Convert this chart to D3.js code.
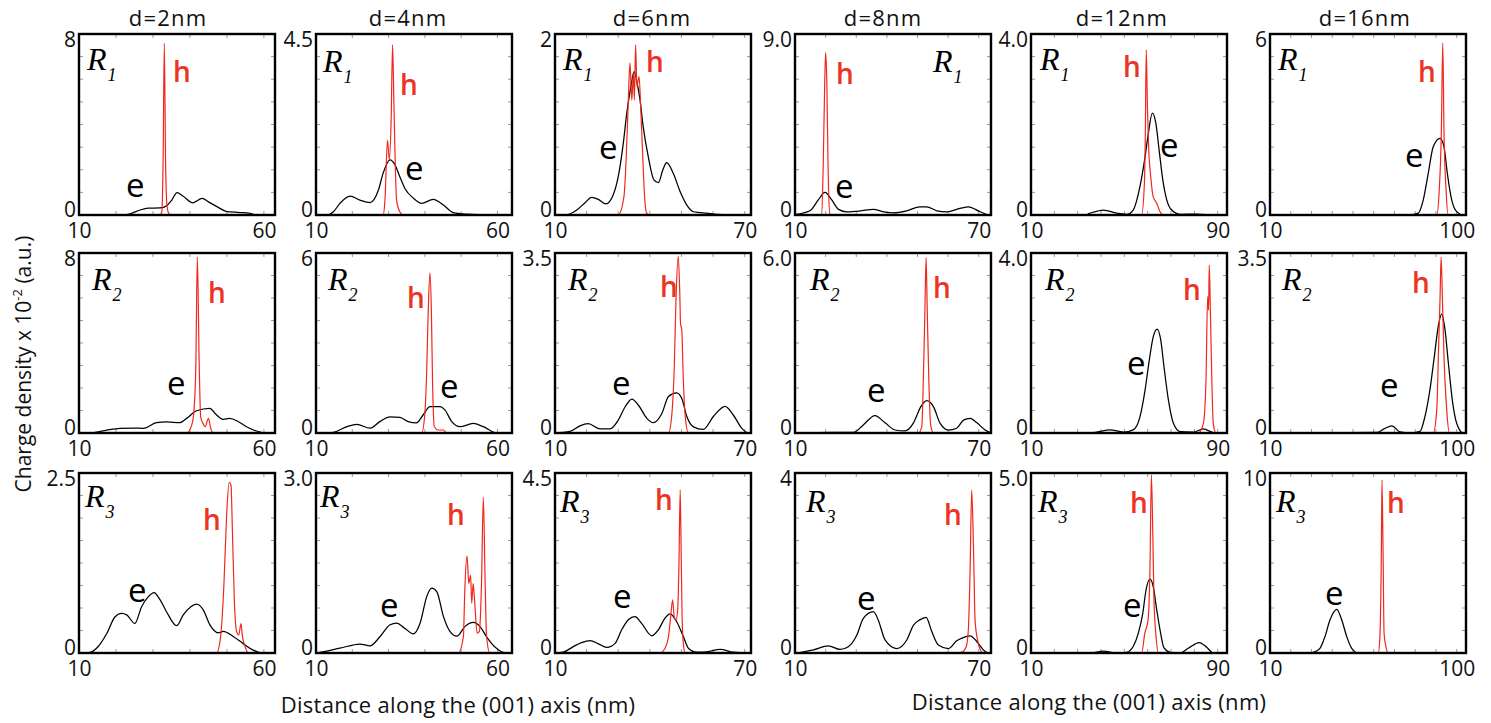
<!DOCTYPE html>
<html><head><meta charset="utf-8">
<script src="https://cdn.jsdelivr.net/npm/d3@7"></script>
<style>
body{margin:0;background:#fff}
svg{display:block}
</style>
</head><body>
<svg id="chart" width="1491" height="723"></svg>
<script>
// ---------- categories / tick labels ----------
const columns = ["d=2nm","d=4nm","d=6nm","d=8nm","d=12nm","d=16nm"];
const rowNames = ["1","2","3"];
const xDomains = [[10,63],[10,64],[10,72],[10,74],[10,94],[10,104.5]];
const xTickLabels = [[10,60],[10,60],[10,70],[10,70],[10,90],[10,100]];
const yMax = [[8,4.5,2,9,4,6],[8,6,3.5,6,4,3.5],[2.5,3,4.5,4,5,10]];
const yTickLabels = [["8","4.5","2","9.0","4.0","6"],["8","6","3.5","6.0","4.0","3.5"],["2.5","3.0","4.5","4","5.0","10"]];

// ---------- series: [distance nm, charge density] ----------
// Row R1
const e_d2_R1 = [[10,0],[22.4,0],[23.8,0.05],[26.5,0.22],[28.7,0.30],[31.9,0.31],[33.8,0.42],[35.1,0.66],[36.5,0.99],[38.1,0.84],[40.8,0.54],[43.3,0.74],[45.1,0.57],[47.3,0.37],[50.0,0.15],[53.5,0.11],[56.2,0.07],[57.9,0],[63,0]];
const h_d2_R1 = [[10,0],[31.9,0],[32.4,0.15],[32.75,2.5],[33.07,7.59],[33.4,2.5],[33.75,0.5],[34.2,0.1],[34.9,0],[63,0]];
const e_d4_R1 = [[10,0],[12.9,0],[14.8,0.08],[16.6,0.29],[19.4,0.47],[22.1,0.37],[24.9,0.31],[27.2,0.62],[28.5,1.04],[30.4,1.37],[31.8,1.24],[33.1,0.95],[34.5,0.66],[36.8,0.42],[39.1,0.29],[42.3,0.39],[45.1,0.25],[47.8,0.06],[51.5,0.02],[57.9,0],[64,0]];
const h_d4_R1 = [[10,0],[28.5,0],[29.0,0.37],[29.7,1.86],[30.2,1.37],[30.7,2.36],[31.1,4.23],[31.5,2.61],[32.2,0.37],[33.1,0.08],[34.0,0],[64,0]];
const e_d6_R1 = [[10,0],[13.2,0],[16.9,0.055],[19.5,0.136],[21.6,0.196],[23.7,0.173],[26.1,0.122],[28.4,0.221],[30.0,0.423],[31.6,0.792],[32.7,1.124],[34.0,1.418],[35.0,1.584],[36.0,1.455],[36.9,1.271],[37.9,0.976],[39.5,0.644],[41.3,0.387],[42.7,0.357],[44.1,0.497],[45.3,0.578],[47.4,0.461],[49.6,0.257],[51.7,0.11],[53.8,0.036],[58.0,0.02],[66.3,0],[72,0]];
const h_d6_R1 = [[10,0],[30.0,0],[31.8,0.2],[32.5,0.61],[33.2,1.27],[33.7,1.68],[34.3,1.27],[34.8,1.57],[35.1,1.27],[35.5,1.88],[35.9,1.42],[36.6,1.53],[37.1,1.2],[37.8,0.61],[38.4,0.17],[39.0,0.02],[40.1,0],[72,0]];
const e_d8_R1 = [[10,0.03],[14.9,0.21],[17.6,0.75],[19.8,1.13],[22.0,0.75],[24.2,0.28],[26.9,0.16],[31.2,0.2],[35.6,0.28],[38.9,0.16],[42.1,0.11],[46.5,0.21],[50.8,0.41],[53.0,0.41],[56.3,0.21],[59.6,0.16],[63.9,0.33],[66.6,0.41],[70.5,0.16],[73.5,0],[74,0]];
const h_d8_R1 = [[10,0],[17.5,0],[18.7,0.03],[19.2,2.4],[19.7,6.55],[20.0,8.07],[20.4,6.55],[20.8,2.4],[21.4,0.05],[22.4,0],[74,0]];
const e_d12_R1 = [[10,0],[33.1,0],[35.3,0.04],[41.0,0.11],[46.7,0.04],[51.0,0.015],[53.8,0.11],[56.7,0.63],[58.9,1.29],[60.3,1.81],[62.0,2.25],[63.5,2.03],[64.9,1.44],[66.5,0.77],[68.2,0.33],[70.3,0.11],[73.9,0.015],[81.0,0.02],[88.9,0],[94,0]];
const h_d12_R1 = [[10,0],[57.4,0],[58.6,0.7],[59.0,1.8],[59.4,3.65],[59.9,2.39],[60.4,1.51],[61.3,0.85],[62.4,0.4],[63.9,0.26],[65.3,0.07],[66.7,0],[94,0]];
const e_d16_R1 = [[10,0],[77.5,0],[81.5,0.06],[83.9,0.5],[86.3,1.38],[88.7,2.26],[92.0,2.54],[93.9,2.26],[95.5,1.38],[97.6,0.5],[100.0,0.11],[103.2,0],[104.5,0]];
const h_d16_R1 = [[10,0],[90.4,0],[91.6,0.83],[92.6,2.71],[93.3,5.71],[93.9,2.71],[94.9,0.83],[95.8,0],[104.5,0]];
// Row R2
const e_d2_R2 = [[10,0],[13.9,0.02],[17.5,0.13],[21.1,0.21],[24.7,0.22],[27.4,0.21],[31.0,0.46],[33.7,0.49],[37.3,0.46],[39.1,0.65],[41.8,0.99],[45.4,1.1],[46.8,0.87],[49.0,0.61],[50.8,0.65],[53.1,0.5],[55.3,0.28],[58.0,0.09],[60.8,0],[63,0]];
const h_d2_R2 = [[10,0],[39.1,0],[40.5,0.36],[41.1,1.02],[41.6,3.09],[42.0,7.83],[42.5,3.09],[42.9,0.72],[43.5,0.43],[44.1,0.28],[45.0,0.65],[45.6,0.21],[46.3,0],[63,0]];
const e_d4_R2 = [[10,0],[12.8,0],[14.8,0.02],[18.5,0.21],[21.2,0.29],[24.9,0.16],[27.6,0.38],[30.4,0.54],[33.1,0.52],[35.4,0.38],[37.7,0.34],[39.5,0.6],[41.4,0.88],[44.2,0.88],[45.5,0.77],[47.4,0.38],[49.7,0.21],[53.3,0.32],[56.1,0.21],[59.8,0],[64,0]];
const h_d4_R2 = [[10,0],[39.1,0],[40.0,0.66],[40.5,2.1],[40.9,3.99],[41.4,5.34],[41.8,3.99],[42.1,1.77],[42.6,0.21],[43.7,0.1],[45.1,0.1],[46.0,0],[64,0]];
const e_d6_R2 = [[10,0],[14.7,0.03],[17.9,0.14],[20.5,0.18],[24.2,0.08],[27.4,0.08],[30.0,0.25],[32.2,0.51],[34.3,0.66],[36.4,0.54],[39.0,0.29],[41.1,0.2],[43.8,0.38],[45.9,0.71],[48.5,0.78],[50.1,0.67],[51.7,0.32],[53.8,0.12],[56.9,0.07],[60.1,0.32],[63.8,0.52],[66.4,0.35],[69.1,0.09],[71.2,0],[72,0]];
const h_d6_R2 = [[10,0],[45.9,0],[46.9,0.32],[47.7,1.22],[48.3,2.65],[49.0,3.44],[49.5,2.65],[49.7,2.13],[50.1,2.0],[50.6,1.03],[51.2,0.32],[52.2,0],[72,0]];
const e_d8_R2 = [[10,0],[22.5,0.02],[29.1,0.02],[32.3,0.27],[36.1,0.58],[39.4,0.34],[42.7,0.1],[45.9,0.07],[48.7,0.34],[51.1,0.88],[53.0,1.08],[55.2,0.88],[57.4,0.32],[60.1,0.1],[62.8,0.16],[65.0,0.43],[67.2,0.49],[69.4,0.34],[72.1,0.1],[74,0]];
const h_d8_R2 = [[10,0],[50.3,0],[51.4,0.21],[51.9,1.77],[52.4,3.99],[52.8,5.85],[53.2,3.99],[53.7,1.77],[54.3,0.27],[55.2,0],[74,0]];
const e_d12_R2 = [[10,0],[35.3,0],[38.2,0.02],[43.9,0.07],[49.6,0.02],[53.8,0.07],[56.7,0.36],[58.9,0.96],[60.7,1.62],[62.4,2.14],[64.1,2.31],[65.6,2.07],[67.0,1.47],[68.9,0.73],[71.0,0.22],[73.9,0.03],[79.6,0.02],[83.9,0.09],[87.5,0.02],[89.6,0],[94,0]];
const h_d12_R2 = [[10,0],[81.7,0],[83.9,0.22],[85.0,1.18],[85.7,3.03],[86.1,2.73],[86.4,3.73],[86.9,2.66],[87.5,1.18],[88.1,0.22],[89.3,0],[94,0]];
const e_d16_R2 = [[10,0],[61.4,0.01],[65.4,0.09],[68.7,0.14],[72.7,0.02],[77.5,0],[82.3,0.03],[84.7,0.32],[87.1,0.84],[89.2,1.48],[91.1,2.07],[92.8,2.31],[94.4,2.0],[96.0,1.36],[98.1,0.58],[100.0,0.19],[103.2,0],[104.5,0]];
const h_d16_R2 = [[10,0],[88.7,0],[90.4,0.45],[91.3,1.68],[92.0,2.65],[92.5,3.42],[93.1,2.65],[93.9,1.48],[95.2,0.45],[96.5,0],[104.5,0]];
// Row R3
const e_d2_R3 = [[10,0],[13.0,0.01],[15.2,0.09],[17.5,0.27],[19.7,0.5],[21.5,0.55],[22.9,0.53],[25.1,0.41],[26.9,0.64],[28.7,0.78],[30.3,0.84],[31.9,0.74],[33.7,0.57],[36.4,0.38],[38.2,0.53],[41.8,0.68],[43.6,0.6],[45.4,0.39],[47.7,0.28],[49.0,0.3],[51.7,0.23],[54.4,0.13],[57.1,0.04],[59.8,0],[63,0]];
const h_d2_R3 = [[10,0],[47.2,0],[48.3,0.23],[49.2,0.97],[49.9,1.89],[50.6,2.37],[51.1,2.33],[51.5,1.66],[52.0,0.74],[52.6,0.3],[53.2,0.25],[53.8,0.41],[54.2,0.23],[54.9,0.09],[55.8,0],[63,0]];
const e_d4_R3 = [[10,0],[11.1,0.01],[16.6,0.08],[22.1,0.15],[24.9,0.12],[27.6,0.27],[30.4,0.47],[32.2,0.5],[34.5,0.41],[36.8,0.32],[38.7,0.5],[40.5,0.94],[41.9,1.08],[43.3,1.02],[45.1,0.61],[46.9,0.36],[48.8,0.28],[51.0,0.44],[53.3,0.51],[55.2,0.44],[57.0,0.27],[59.3,0.1],[62.5,0],[64,0]];
const h_d4_R3 = [[10,0],[49.2,0],[50.6,0.27],[51.0,1.05],[51.6,1.62],[52.1,1.16],[52.6,1.3],[52.9,0.83],[53.3,1.16],[53.8,0.77],[54.4,0.33],[55.0,0.36],[55.6,1.16],[56.1,2.6],[56.6,1.16],[57.0,0.27],[57.9,0],[64,0]];
const e_d6_R3 = [[10,0],[12.6,0.02],[15.8,0.16],[18.4,0.26],[21.1,0.31],[23.7,0.23],[26.4,0.14],[29.0,0.24],[31.1,0.58],[33.2,0.83],[35.3,0.91],[37.4,0.74],[40.6,0.43],[42.7,0.58],[44.8,0.87],[46.4,0.98],[48.5,0.78],[50.6,0.41],[52.2,0.12],[54.8,0.02],[58.0,0.03],[62.2,0.09],[66.4,0.02],[70.7,0],[72,0]];
const h_d6_R3 = [[10,0],[43.2,0],[44.8,0.12],[45.9,0.41],[46.6,0.91],[47.2,1.33],[47.7,0.91],[48.3,0.83],[48.8,1.08],[49.2,2.16],[49.6,4.08],[49.9,2.58],[50.2,0.91],[50.6,0.24],[51.2,0],[72,0]];
const e_d8_R3 = [[10,0],[11.6,0.01],[16.0,0.07],[20.9,0.16],[24.7,0.08],[27.4,0.14],[30.2,0.4],[32.3,0.77],[35.6,0.92],[37.2,0.73],[39.4,0.29],[43.2,0.1],[46.5,0.29],[48.7,0.62],[50.6,0.73],[52.8,0.79],[54.7,0.47],[56.8,0.18],[60.1,0.1],[62.8,0.27],[64.5,0.33],[67.2,0.38],[69.4,0.25],[71.5,0.07],[73.2,0],[74,0]];
const h_d8_R3 = [[10,0],[62.3,0],[64.5,0.02],[65.9,0.14],[66.6,0.51],[67.2,1.92],[67.7,3.62],[68.3,2.29],[68.8,0.73],[69.6,0.29],[70.5,0.07],[71.5,0],[74,0]];
const e_d12_R3 = [[10,0],[35.3,0],[41.0,0.05],[46.7,0],[51.0,0.02],[53.8,0.18],[56.0,0.55],[57.9,1.1],[59.3,1.75],[61.0,2.05],[62.4,1.84],[63.9,1.19],[65.3,0.64],[67.0,0.14],[69.6,0.02],[73.9,0],[77.4,0.13],[82.1,0.29],[85.3,0.16],[88.1,0],[94,0]];
const h_d12_R3 = [[10,0],[57.4,0],[58.9,0.59],[59.6,0.73],[60.3,1.01],[61.0,2.4],[61.6,4.95],[62.2,3.33],[62.7,1.47],[63.6,0.45],[64.6,0],[94,0]];
const e_d16_R3 = [[10,0],[29.3,0],[30.9,0.03],[34.1,0.26],[36.5,0.91],[38.9,1.83],[42.2,2.43],[44.6,1.83],[47.0,0.91],[49.4,0.26],[52.6,0],[104.5,0]];
const h_d16_R3 = [[10,0],[62.2,0],[63.0,0.91],[63.7,5.73],[64.0,9.62],[64.5,5.73],[65.0,1.1],[65.9,0.35],[67.0,0],[104.5,0]];

const eSeries = [
  [e_d2_R1,e_d4_R1,e_d6_R1,e_d8_R1,e_d12_R1,e_d16_R1],
  [e_d2_R2,e_d4_R2,e_d6_R2,e_d8_R2,e_d12_R2,e_d16_R2],
  [e_d2_R3,e_d4_R3,e_d6_R3,e_d8_R3,e_d12_R3,e_d16_R3]];
const hSeries = [
  [h_d2_R1,h_d4_R1,h_d6_R1,h_d8_R1,h_d12_R1,h_d16_R1],
  [h_d2_R2,h_d4_R2,h_d6_R2,h_d8_R2,h_d12_R2,h_d16_R2],
  [h_d2_R3,h_d4_R3,h_d6_R3,h_d8_R3,h_d12_R3,h_d16_R3]];

// ---------- layout (pixels) ----------
const colLeft = [79, 316, 555, 795, 1031, 1270];
const colWidth = 196;
const rowTop = [34, 253, 473];
const rowHeight = [181, 180, 180];
const titleDx = [89, 92, 97, 88, 91, 95];
const rPos = [[[8,36],[7,38],[8,36],[138,38],[9,36],[8,36]],
              [[13,37],[12,37],[13,37],[15,37],[14,37],[12,37]],
              [[6,34],[4,34],[5,39],[11,39],[7,39],[6,39]]];
const hPos = [[[94,48],[84,61],[91,38],[41,50],[92,43],[148,48]],
              [[129,50],[91,55],[105,44],[138,45],[152,47],[142,40]],
              [[124,57],[131,52],[100,37],[149,52],[99,40],[117,40]]];
const ePos = [[[47,163],[89,146],[44,125],[40,164],[129,123],[135,133]],
              [[88,142],[124,145],[57,142],[72,149],[96,122],[110,144]],
              [[49,129],[64,144],[58,135],[62,137],[92,144],[55,132]]];

const FONT = "'Open Sans', 'Noto Sans', sans-serif";
const SERIF = "'Liberation Serif', 'DejaVu Serif', serif";
const RED_LINE = "#f0281c";
const RED_TEXT = "#ec3424";

const svg = d3.select("#chart");
svg.append("rect").attr("width",1491).attr("height",723).attr("fill","#fff");

rowNames.forEach((rn, r) => {
  columns.forEach((cn, c) => {
    const left = colLeft[c], top = rowTop[r], w = colWidth, h = rowHeight[r];
    const x = d3.scaleLinear().domain(xDomains[c]).range([left, left + w]);
    const y = d3.scaleLinear().domain([0, yMax[r][c]]).range([top + h, top]);
    const g = svg.append("g");
    const clipId = `clip-${r}-${c}`;
    g.append("clipPath").attr("id", clipId).append("rect")
      .attr("x", left).attr("y", top).attr("width", w).attr("height", h);

    // minor inward ticks on all sides
    const xt = d3.range(xDomains[c][0] + 10, xDomains[c][1], 10);
    const yt = d3.range(1, 8).map(k => yMax[r][c] * k / 8);
    const tk = g.append("g").attr("stroke", "#9a9a9a").attr("stroke-width", 1);
    xt.forEach(v => {
      tk.append("line").attr("x1", x(v)).attr("x2", x(v)).attr("y1", top + h).attr("y2", top + h - 4);
      tk.append("line").attr("x1", x(v)).attr("x2", x(v)).attr("y1", top).attr("y2", top + 4);
    });
    yt.forEach(v => {
      tk.append("line").attr("x1", left).attr("x2", left + 4).attr("y1", y(v)).attr("y2", y(v));
      tk.append("line").attr("x1", left + w).attr("x2", left + w - 4).attr("y1", y(v)).attr("y2", y(v));
    });

    const line = d3.line().x(d => x(d[0])).y(d => y(d[1])).curve(d3.curveMonotoneX);
    const plot = g.append("g").attr("clip-path", `url(#${clipId})`);
    plot.append("path").attr("d", line(eSeries[r][c])).attr("fill", "none")
      .attr("stroke", "#000").attr("stroke-width", 1.25);
    plot.append("path").attr("d", line(hSeries[r][c])).attr("fill", "none")
      .attr("stroke", RED_LINE).attr("stroke-width", 1.2);

    // frame
    g.append("rect").attr("x", left).attr("y", top).attr("width", w).attr("height", h)
      .attr("fill", "none").attr("stroke", "#000").attr("stroke-width", 2.4);

    // x axis labels
    const gx = g.append("g").attr("transform", `translate(0,${top + h})`)
      .call(d3.axisBottom(x).tickValues(xTickLabels[c]).tickSize(0).tickPadding(8).tickFormat(d3.format("d")));
    gx.select(".domain").remove();
    gx.selectAll("text").attr("font-size", 21).attr("font-family", FONT).attr("fill", "#111");

    // y axis labels
    const gy = g.append("g").attr("transform", `translate(${left},0)`)
      .call(d3.axisLeft(y).tickValues([0, yMax[r][c]]).tickSize(0).tickPadding(3)
        .tickFormat(d => d === 0 ? "0" : yTickLabels[r][c]));
    gy.select(".domain").remove();
    gy.selectAll("text").attr("font-size", 21).attr("font-family", FONT).attr("fill", "#111")
      .attr("dy", d => d === 0 ? "0.08em" : "0.6em");

    // R label
    const rt = g.append("text").attr("x", left + rPos[r][c][0]).attr("y", top + rPos[r][c][1])
      .attr("font-family", SERIF).attr("font-style", "italic").attr("font-size", 32).attr("fill", "#000");
    rt.append("tspan").text("R");
    rt.append("tspan").attr("font-size", 18).attr("dy", 11).attr("dx", 1).text(rn);

    // h label
    g.append("text").attr("x", left + hPos[r][c][0]).attr("y", top + hPos[r][c][1])
      .attr("font-family", FONT).attr("font-weight", 600).attr("font-size", 28)
      .attr("fill", RED_TEXT).text("h");
    // e label
    g.append("text").attr("x", left + ePos[r][c][0]).attr("y", top + ePos[r][c][1])
      .attr("font-family", FONT).attr("font-size", 33).attr("fill", "#000").text("e");

    // column titles
    if (r === 0) {
      g.append("text").attr("x", left + titleDx[c]).attr("y", 26).attr("text-anchor", "middle")
        .attr("font-family", FONT).attr("font-size", 22).attr("letter-spacing", 1.2).attr("fill", "#111").text(cn);
    }
  });
});

// axis titles
const xTitles = [[458, 713], [1089, 710]];
xTitles.forEach(p => {
  svg.append("text").attr("x", p[0]).attr("y", p[1]).attr("text-anchor", "middle")
    .attr("font-family", FONT).attr("font-size", 22).attr("letter-spacing", 0.3).attr("fill", "#111")
    .text("Distance along the (001) axis (nm)");
});
const yt = svg.append("text").attr("transform", "translate(31,364) rotate(-90)")
  .attr("text-anchor", "middle").attr("font-family", FONT).attr("font-size", 21).attr("fill", "#111");
yt.append("tspan").text("Charge density  x 10");
yt.append("tspan").attr("font-size", 13).attr("dy", -9).text("-2");
yt.append("tspan").attr("dy", 9).text(" (a.u.)");
</script>
</body></html>
